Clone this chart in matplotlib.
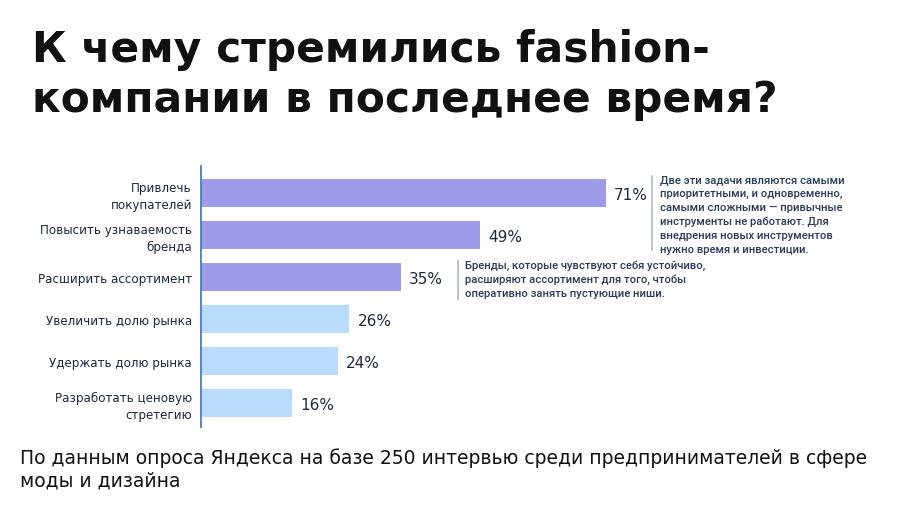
import matplotlib
matplotlib.use('Agg')
import matplotlib.pyplot as plt
from matplotlib.lines import Line2D

''' Data '''
categories = ['Привлечь\nпокупателей', 'Повысить узнаваемость\nбренда', 'Расширить ассортимент',
              'Увеличить долю рынка', 'Удержать долю рынка', 'Разработать ценовую\nстретегию']
values = [71, 49, 35, 26, 24, 16]
groups = ['top', 'top', 'top', 'other', 'other', 'other']

title_lines = ['К чему стремились fashion-', 'компании в последнее время?']
note_top = ['Две эти задачи являются самыми', 'приоритетными, и одновременно,',
            'самыми сложными — привычные', 'инструменты не работают. Для',
            'внедрения новых инструментов', 'нужно время и инвестиции.']
note_mid = ['Бренды, которые чувствуют себя устойчиво,', 'расширяют ассортимент для того, чтобы',
            'оперативно занять пустующие ниши.']
source_lines = ['По данным опроса Яндекса на базе 250 интервью среди предпринимателей в сфере',
                'моды и дизайна']

''' Style '''
W, H = 900, 506
colors = {'top': '#9e9ce9', 'other': '#badcfc'}
TEXT_DARK = '#1e2845'
NOTE_COLOR = '#2b3a5c'
plt.rcParams['font.family'] = ['DejaVu Sans']


def fx(x):
    return x / W


def fy(y):
    return 1 - y / H


def text_block(lines, x, y0, step, **kw):
    # one fig.text per line, baselines given in pixels from the top
    for i, line in enumerate(lines):
        fig.text(fx(x), fy(y0 + i * step), line, va='baseline', ha='left', **kw)


fig = plt.figure(figsize=(9, 5.06), dpi=100)
fig.patch.set_facecolor('white')

# axes placed by pixel: left 201, top 167, bottom 428
ax = fig.add_axes([fx(201), fy(428), fx(699), 261 / H])
ypos = list(range(len(values)))
ax.barh(ypos, values, height=0.67, color=[colors[g] for g in groups], zorder=2)
ax.set_xlim(0, 699 / 5.7)
ax.set_ylim(5.58, -0.64)

for y, v in zip(ypos, values):
    ax.annotate(f'{v}%', (v, y), xytext=(6, -1), textcoords='offset points',
                va='center', ha='left', fontsize=11, color=TEXT_DARK)

ax.set_yticks(ypos)
ax.set_yticklabels(categories, fontsize=8.6, color=TEXT_DARK, linespacing=1.35)
ax.tick_params(axis='y', length=0, pad=6.5)
ax.set_xticks([])
for s in ['top', 'right', 'bottom']:
    ax.spines[s].set_visible(False)
ax.spines['left'].set_color('#4f7bb3')
ax.spines['left'].set_linewidth(1.3)

# title and source
text_block(title_lines, 32, 62, 50, fontsize=30.5, fontweight='bold', color='#111111')
text_block(source_lines, 20, 464, 23, fontsize=13.5, color='#111111')

# side notes
note_kw = dict(fontsize=8.1, fontweight='medium', color=NOTE_COLOR, family=['Roboto', 'DejaVu Sans'])
text_block(note_top, 660, 183, 14, **note_kw)
fig.add_artist(Line2D([fx(652), fx(652)], [fy(177), fy(251)], color='#aab8cc', lw=1.2))
text_block(note_mid, 465, 269, 14, **note_kw)
fig.add_artist(Line2D([fx(458), fx(458)], [fy(262), fy(300)], color='#aab8cc', lw=1.2))

fig.savefig('out.png', dpi=100, facecolor='white')
